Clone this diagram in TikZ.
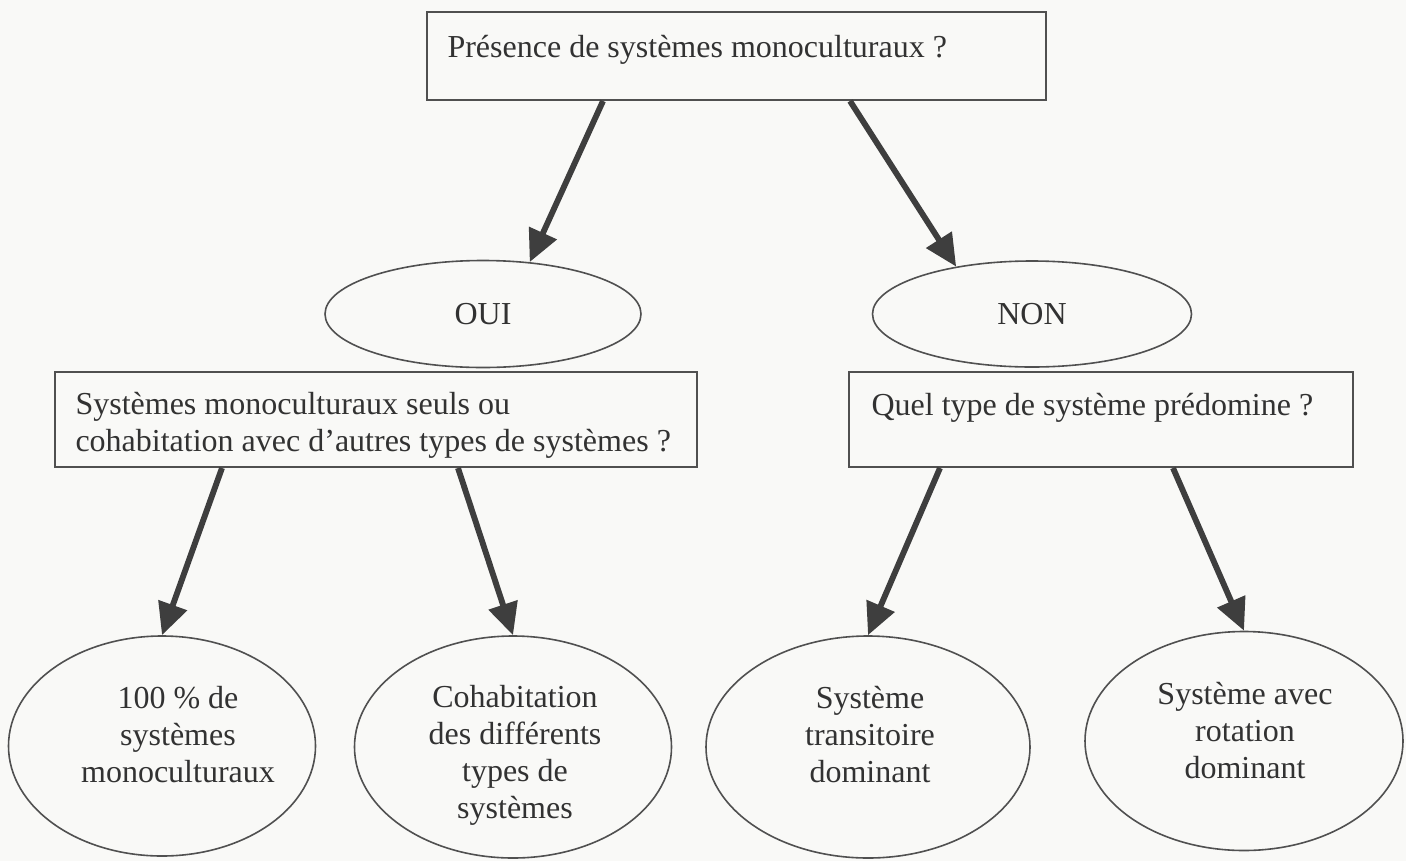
\documentclass[tikz,border=0pt]{standalone}
\usepackage{fontspec}
\setmainfont{Liberation Serif}
\usetikzlibrary{shapes.geometric,arrows.meta}
\definecolor{ink}{RGB}{50,50,50}
\definecolor{linec}{RGB}{80,80,80}
\definecolor{arrowc}{RGB}{62,62,62}
\definecolor{paper}{RGB}{249,249,247}
\begin{document}
\begin{tikzpicture}[x=0.375pt,y=-0.375pt,
  txt/.style={text=ink, inner sep=0pt, font=\fontsize{12}{13.8}\selectfont},
  qbox/.style={draw=linec, line width=0.75pt, rectangle, inner sep=0pt},
  oval/.style={draw=linec, line width=0.6pt, ellipse, inner sep=0pt, text=ink, font=\fontsize{12}{13.8}\selectfont},
  arr/.style={draw=arrowc, line width=2.2pt, -{Triangle[length=12pt,width=11pt]}}]
\fill[paper] (0,0) rectangle (1406,861);
\useasboundingbox (0,0) rectangle (1406,861);

% boxes
\node[qbox, minimum width=619*0.375pt, minimum height=88*0.375pt] (top) at (736.5,56) {};
\node[qbox, minimum width=642*0.375pt, minimum height=95*0.375pt] (lbox) at (376,419.5) {};
\node[qbox, minimum width=504*0.375pt, minimum height=95*0.375pt] (rbox) at (1101,419.5) {};

\node[txt, anchor=base west] (toptxt) at (447,57) {Présence de systèmes monoculturaux ?};
\node[txt, anchor=base west, align=left] (ltxt) at (75,451) {Systèmes monoculturaux seuls ou\\cohabitation avec d’autres types de systèmes ?};
\node[txt, anchor=base west] (rtxt) at (871,415) {Quel type de système prédomine ?};

% yes / no
\node[oval, minimum width=316*0.375pt, minimum height=107*0.375pt] (oui) at (483,314) {OUI};
\node[oval, minimum width=319*0.375pt, minimum height=106*0.375pt] (non) at (1032,314) {NON};

% outcomes
\node[oval, minimum width=307*0.375pt, minimum height=220*0.375pt] (e1) at (162,746) {};
\node[oval, minimum width=317*0.375pt, minimum height=222*0.375pt] (e2) at (513,747) {};
\node[oval, minimum width=324*0.375pt, minimum height=222*0.375pt] (e3) at (868,747) {};
\node[oval, minimum width=318*0.375pt, minimum height=219*0.375pt] (e4) at (1244,741) {};

\node[txt, anchor=base, align=center] (e1t) at (178,782) {100 \% de\\systèmes\\monoculturaux};
\node[txt, anchor=base, align=center] (e2t) at (515,818) {Cohabitation\\des différents\\types de\\systèmes};
\node[txt, anchor=base, align=center] (e3t) at (870,782) {Système\\transitoire\\dominant};
\node[txt, anchor=base, align=center] (e4t) at (1245,778) {Système avec\\rotation\\dominant};

% arrows
\draw[arr] (top.south -| 603,0) -- (oui.48);
\draw[arr] (top.south -| 850,0) -- (non.148);
\draw[arr] (lbox.south -| 222,0) -- (e1.north);
\draw[arr] (lbox.south -| 458,0) -- (e2.north);
\draw[arr] (rbox.south -| 940,0) -- (e3.north);
\draw[arr] (rbox.south -| 1173,0) -- (e4.north);
\end{tikzpicture}
\end{document}
